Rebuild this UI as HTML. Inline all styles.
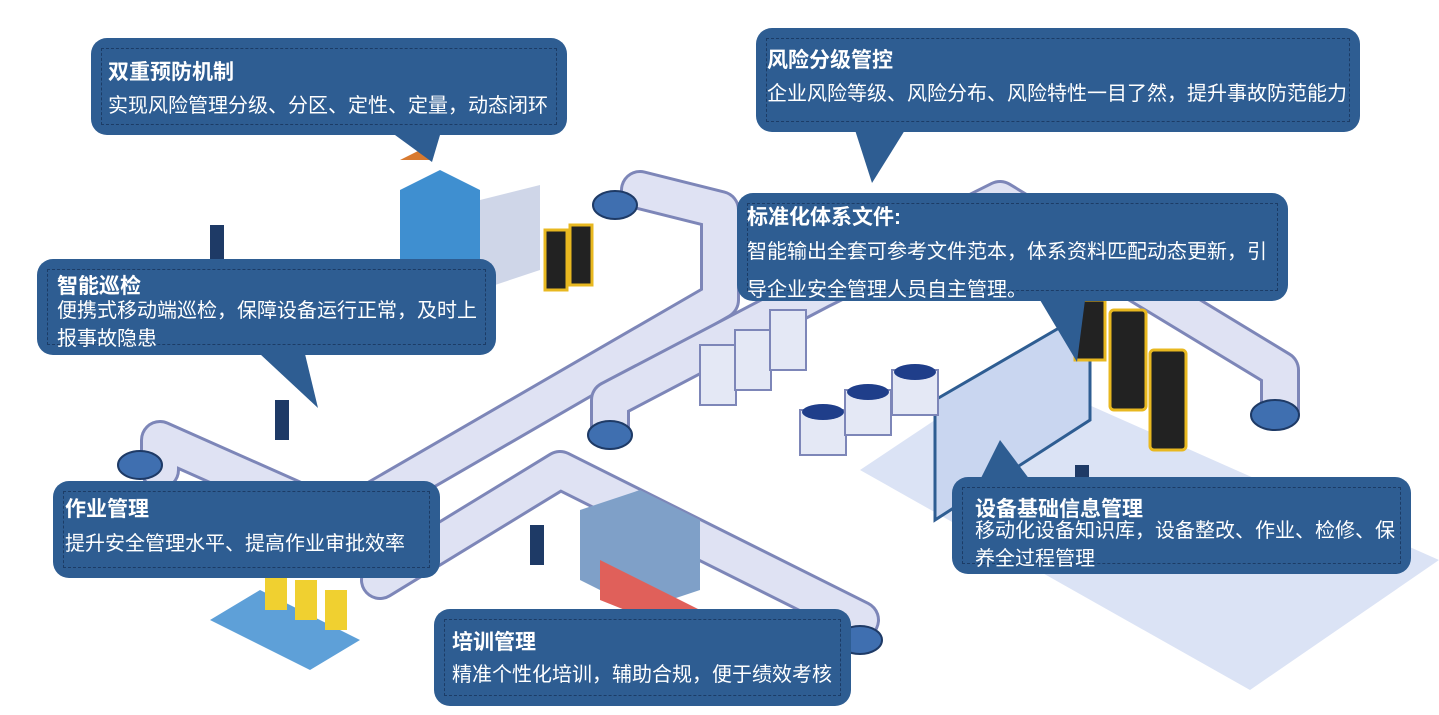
<!DOCTYPE html>
<html><head><meta charset="utf-8"><style>
body{margin:0;width:1439px;height:715px;background:#fff;position:relative;overflow:hidden;font-family:"Liberation Sans","Noto Sans CJK SC",sans-serif}
.b{position:absolute;background:#2e5d92;border-radius:16px;color:#fff;box-sizing:border-box}
.b .in{position:absolute;left:10px;right:10px;top:10px;bottom:10px;border:1px dashed #1c3c66}
.b h3{margin:0;font-size:21px;font-weight:bold;position:absolute;left:17px;white-space:nowrap}
.b p{margin:0;font-size:20px;position:absolute;left:17px;line-height:28px;white-space:nowrap}
svg{position:absolute;left:0;top:0}
</style></head><body>
<svg width="1439" height="715">
<g fill="none" stroke-linecap="round" stroke-linejoin="round">
<path d="M160 470 L160 440 L340 520 L720 300 L720 210 L640 190" stroke="#7d86b8" stroke-width="40"/>
<path d="M160 470 L160 440 L340 520 L720 300 L720 210 L640 190" stroke="#dfe2f3" stroke-width="34"/>
<path d="M380 580 L560 470 L860 620" stroke="#7d86b8" stroke-width="40"/>
<path d="M380 580 L560 470 L860 620" stroke="#dfe2f3" stroke-width="34"/>
<path d="M610 430 L610 400 L820 290 L1000 200 L1280 370 L1280 410" stroke="#7d86b8" stroke-width="40"/>
<path d="M610 430 L610 400 L820 290 L1000 200 L1280 370 L1280 410" stroke="#dfe2f3" stroke-width="34"/>
</g>
<g fill="#3f6fb0" stroke="#1e3a66" stroke-width="2">
<ellipse cx="140" cy="465" rx="22" ry="14"/><ellipse cx="615" cy="205" rx="22" ry="14"/><ellipse cx="610" cy="435" rx="22" ry="14"/><ellipse cx="1275" cy="415" rx="24" ry="15"/><ellipse cx="860" cy="640" rx="22" ry="14"/>
</g>
<polygon points="860,470 1010,370 1439,560 1250,690" fill="#dbe3f5"/>
<polygon points="935,400 1090,310 1090,420 935,520" fill="#c9d6f0" stroke="#2e5d92" stroke-width="3"/>
<g fill="#222" stroke="#e8b820" stroke-width="3">
<rect x="1110" y="310" width="36" height="100" rx="4"/><rect x="1150" y="350" width="36" height="100" rx="4"/><rect x="1075" y="300" width="30" height="60"/>
<rect x="545" y="230" width="22" height="60"/><rect x="570" y="225" width="22" height="60"/>
</g>
<g fill="#e4e8f5" stroke="#7d86b8" stroke-width="2">
<rect x="700" y="345" width="36" height="60"/><rect x="735" y="330" width="36" height="60"/><rect x="770" y="310" width="36" height="60"/>
<rect x="800" y="410" width="46" height="45"/><rect x="845" y="390" width="46" height="45"/><rect x="892" y="370" width="46" height="45"/>
</g>
<g fill="#1f3e8a"><ellipse cx="823" cy="412" rx="21" ry="8"/><ellipse cx="868" cy="392" rx="21" ry="8"/><ellipse cx="915" cy="372" rx="21" ry="8"/></g>
<polygon points="400,190 440,170 480,190 480,280 440,300 400,280" fill="#3f8fd0"/>
<polygon points="480,200 540,185 540,270 480,290" fill="#cfd6e8"/>
<polygon points="580,510 640,490 700,520 700,590 640,610 580,580" fill="#7fa0c8"/>
<polygon points="600,560 700,610 650,620 600,600" fill="#e0605a"/>
<polygon points="210,620 260,590 360,640 310,670" fill="#5ea0d8"/>
<g fill="#f0d030"><rect x="265" y="570" width="22" height="40"/><rect x="295" y="580" width="22" height="40"/><rect x="325" y="590" width="22" height="40"/></g>
<g fill="#1e3a66"><rect x="210" y="225" width="14" height="40"/><rect x="275" y="400" width="14" height="40"/><rect x="530" y="525" width="14" height="40"/><rect x="1075" y="465" width="14" height="40"/></g>
<polygon points="400,160 430,145 430,160" fill="#d87a30"/>
<polygon points="395,135 440,135 432,162" fill="#2e5d92"/>
<polygon points="855,130 905,130 872,183" fill="#2e5d92"/>
<polygon points="1040,300 1085,300 1077,362" fill="#2e5d92"/>
<polygon points="260,354 305,354 318,408" fill="#2e5d92"/>
<polygon points="980,480 1030,480 1000,440" fill="#2e5d92"/>
</svg>
<div class="b" style="left:91px;top:38px;width:476px;height:97px"><div class="in"></div><h3 style="top:18px">双重预防机制</h3><p style="top:54px">实现风险管理分级、分区、定性、定量，动态闭环</p></div>
<div class="b" style="left:756px;top:28px;width:604px;height:104px"><div class="in"></div><h3 style="top:16px;left:11px">风险分级管控</h3><p style="top:52px;left:11px">企业风险等级、风险分布、风险特性一目了然，提升事故防范能力</p></div>
<div class="b" style="left:737px;top:193px;width:551px;height:108px"><div class="in"></div><h3 style="top:8px;left:10px">标准化体系文件:</h3><p style="top:40px;left:10px;line-height:38px">智能输出全套可参考文件范本，体系资料匹配动态更新，引<br>导企业安全管理人员自主管理。</p></div>
<div class="b" style="left:37px;top:259px;width:459px;height:96px"><div class="in"></div><h3 style="top:11px;left:20px">智能巡检</h3><p style="top:38px;left:20px">便携式移动端巡检，保障设备运行正常，及时上<br>报事故隐患</p></div>
<div class="b" style="left:53px;top:481px;width:387px;height:97px"><div class="in"></div><h3 style="top:12px;left:12px">作业管理</h3><p style="top:49px;left:12px">提升安全管理水平、提高作业审批效率</p></div>
<div class="b" style="left:952px;top:477px;width:459px;height:97px"><div class="in"></div><h3 style="top:16px;left:23px">设备基础信息管理</h3><p style="top:40px;left:23px">移动化设备知识库，设备整改、作业、检修、保<br>养全过程管理</p></div>
<div class="b" style="left:434px;top:609px;width:417px;height:97px"><div class="in"></div><h3 style="top:17px;left:18px">培训管理</h3><p style="top:52px;left:18px">精准个性化培训，辅助合规，便于绩效考核</p></div>
</body></html>
